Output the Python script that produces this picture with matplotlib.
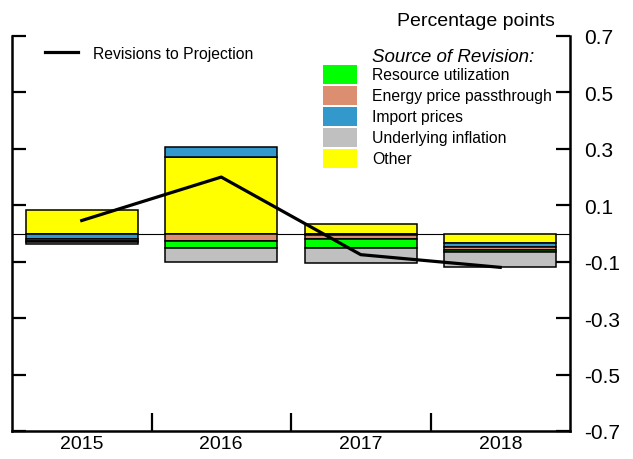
import numpy as np
import matplotlib.pyplot as plt
from matplotlib.patches import Rectangle
from matplotlib.lines import Line2D

plt.rcParams['font.family'] = ['Liberation Sans', 'DejaVu Sans']

years = ['2015', '2016', '2017', '2018']
# contributions by source, percentage points
other = [0.085, 0.270, 0.035, -0.035]
import_prices = [-0.020, 0.038, -0.007, -0.012]
energy = [-0.006, -0.025, -0.013, -0.012]
resource = [-0.004, -0.027, -0.033, -0.008]
underlying = [-0.006, -0.050, -0.050, -0.053]
revisions = [0.046, 0.200, -0.075, -0.120]

series = [
    ('Other', other, '#ffff00'),
    ('Import prices', import_prices, '#3399cc'),
    ('Energy price passthrough', energy, '#dc8e70'),
    ('Resource utilization', resource, '#00ff00'),
    ('Underlying inflation', underlying, '#c0c0c0'),
]
legend_order = ['Resource utilization', 'Energy price passthrough',
                'Import prices', 'Underlying inflation', 'Other']

W, H = 633, 460
fig = plt.figure(figsize=(W / 100, H / 100), dpi=100)
ax = fig.add_axes([12 / W, 1 - 432 / H, 558 / W, 395 / H])

x = np.arange(len(years))
ax.axhline(0, color='black', lw=0.8, zorder=1)

pos = np.zeros(len(years))
neg = np.zeros(len(years))
for name, vals, col in series:
    v = np.array(vals)
    bottom = np.where(v >= 0, pos, neg)
    ax.bar(x, v, width=0.8, bottom=bottom, color=col, edgecolor='black',
           linewidth=1.1, zorder=2)
    pos = pos + np.where(v >= 0, v, 0)
    neg = neg + np.where(v < 0, v, 0)

ax.plot(x, revisions, color='black', lw=2.3, zorder=3)

ax.set_xlim(-0.5, 3.5)
ax.set_ylim(-0.7, 0.7)

yt = [0.7, 0.5, 0.3, 0.1, -0.1, -0.3, -0.5, -0.7]
ax.set_yticks(yt)
ax.set_yticklabels([f'{t:.1f}' for t in yt])
ax.yaxis.set_ticks_position('both')
ax.tick_params(axis='y', direction='in', length=10, width=1.6,
               labelleft=False, labelright=True, labelsize=15, pad=10)

ax.set_xticks([0.5, 1.5, 2.5])
ax.set_xticklabels([])
ax.set_xticks(x, minor=True)
ax.set_xticklabels(years, minor=True)
ax.tick_params(axis='x', which='major', direction='in', length=13, width=1.6)
ax.tick_params(axis='x', which='minor', length=0, labelsize=14, pad=3)

ax.spines['top'].set_visible(False)
for s in ['left', 'right', 'bottom']:
    ax.spines[s].set_linewidth(1.8)


def fx(px):
    return px / W


def fy(py):
    return 1 - py / H


fig.text(fx(555), fy(21), 'Percentage points', ha='right', va='center',
         fontsize=14)

# line legend
fig.add_artist(Line2D([fx(45), fx(78)], [fy(53), fy(53)], color='black',
                      lw=2.3, transform=fig.transFigure))
fig.text(fx(93), fy(54), 'Revisions to Projection', va='center', fontsize=11.3)

# source legend
fig.text(fx(372), fy(57), 'Source of Revision:', va='center', fontsize=13.5,
         style='italic')
colors = {name: col for name, _, col in series}
for i, name in enumerate(legend_order):
    yc = 75.5 + i * 21.1
    fig.add_artist(Rectangle((fx(323), fy(yc + 9.5)), 34 / W, 19 / H,
                             facecolor=colors[name], edgecolor='none',
                             transform=fig.transFigure))
    fig.text(fx(372), fy(yc), name, va='center', fontsize=11.3)

fig.savefig('out.png', dpi=100)
